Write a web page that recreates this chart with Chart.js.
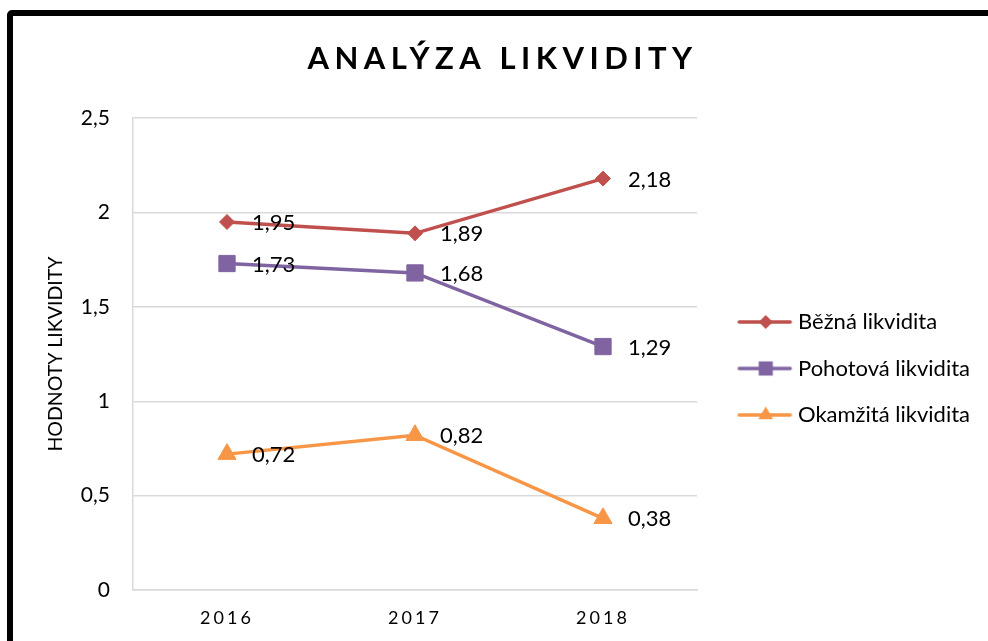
<!DOCTYPE html>
<html>
<head>
<meta charset="utf-8">
<script src="https://cdn.jsdelivr.net/npm/chart.js@4.4.1/dist/chart.umd.min.js"></script>
<style>
  html, body { margin: 0; padding: 0; background: #fff; overflow: hidden; }
  .frame {
    position: absolute; left: 7px; top: 10px;
    width: 979px; height: 705px;
    border: 6px solid #000; border-radius: 5px;
  }
  canvas { display: block; }
</style>
</head>
<body>
<div class="frame"><canvas id="chart" width="979" height="705"></canvas></div>
<script>
const years = ['2016', '2017', '2018'];
const bezna = [1.95, 1.89, 2.18];
const pohotova = [1.73, 1.68, 1.29];
const okamzita = [0.72, 0.82, 0.38];
const yTicks = [0, 0.5, 1, 1.5, 2, 2.5];

const RED = '#C0504D';
const PURPLE = '#8064A2';
const ORANGE = '#F79646';
const GRID = '#d9d9d9';
const FONT = 'Lato';

// plot area edges inside the canvas
const SIDE_PAD = 27;
const PLOT_LEFT = 120;
const PLOT_RIGHT = 684;
const PLOT_BOTTOM = 574;

const fmt = v => v.toFixed(2).replace(/0$/, '').replace(/\.$/, '').replace('.', ',');

// small line + marker picture for the legend, like excel draws it
function legendSample(color, style, radius) {
    const c = document.createElement('canvas');
    c.width = 78;
    c.height = 20;
    const g = c.getContext('2d');
    g.strokeStyle = color;
    g.lineWidth = 3.5;
    g.lineCap = 'round';
    g.beginPath();
    g.moveTo(24, 10);
    g.lineTo(75, 10);
    g.stroke();
    g.fillStyle = color;
    Chart.helpers.drawPoint(g, { pointStyle: style, radius: radius, rotation: 0, borderWidth: 0 }, 50.5, 10);
    return c;
}

const samples = [
    legendSample(RED, 'rectRot', 7),
    legendSample(PURPLE, 'rect', 10),
    legendSample(ORANGE, 'triangle', 8.5),
];

// legend is wider than its text in the original, keep plot right edge fixed
const legendWidth = {
    id: 'legendWidth',
    beforeLayout(chart) {
        const lg = chart.legend;
        if (!lg || lg.fitWrapped) return;
        const fit = lg.fit;
        lg.fit = function () {
            fit.call(this);
            this.width = chart.width - SIDE_PAD - PLOT_RIGHT;
        };
        lg.fitWrapped = true;
    },
    afterLayout(chart) {
        // let the long labels run to the canvas edge instead of being clipped
        const lg = chart.legend;
        lg.right = chart.width;
        lg.width = lg.right - lg.left;
    }
};

// letter spacing for the title and the year labels
const spacing = {
    id: 'spacing',
    beforeDraw(chart) {
        const t = chart.titleBlock;
        if (t && !t.spaced) {
            const draw = t.draw;
            t.draw = function (...args) {
                this.ctx.save();
                this.ctx.letterSpacing = '5.5px';
                draw.apply(this, args);
                this.ctx.restore();
            };
            t.spaced = true;
        }
        const x = chart.scales.x;
        if (x && !x.spaced) {
            const drawLabels = x.drawLabels;
            x.drawLabels = function (...args) {
                this.ctx.save();
                this.ctx.letterSpacing = '3px';
                drawLabels.apply(this, args);
                this.ctx.restore();
            };
            x.spaced = true;
        }
    }
};

const valueLabels = {
    id: 'valueLabels',
    afterDatasetsDraw(chart) {
        const ctx = chart.ctx;
        ctx.save();
        ctx.font = '22px ' + FONT;
        ctx.fillStyle = '#000';
        ctx.textAlign = 'left';
        ctx.textBaseline = 'middle';
        chart.data.datasets.forEach((ds, i) => {
            chart.getDatasetMeta(i).data.forEach((pt, j) => {
                ctx.fillText(fmt(ds.data[j]), pt.x + 25, pt.y + 1);
            });
        });
        ctx.restore();
    }
};

function series(label, data, color, style, radius) {
    return {
        label: label,
        data: data,
        borderColor: color,
        backgroundColor: color,
        borderWidth: 3.5,
        pointStyle: style,
        pointRadius: radius,
        pointHoverRadius: radius,
        pointBorderWidth: 1,
        pointBackgroundColor: color,
        pointBorderColor: color,
        tension: 0,
    };
}

const ctx = document.getElementById('chart').getContext('2d');

new Chart(ctx, {
    type: 'line',
    data: {
        labels: years,
        datasets: [
            series('Běžná likvidita', bezna, RED, 'rectRot', 7.5),
            series('Pohotová likvidita', pohotova, PURPLE, 'rect', 11.5),
            series('Okamžitá likvidita', okamzita, ORANGE, 'triangle', 10.5),
        ],
    },
    options: {
        responsive: false,
        animation: false,
        events: [],
        layout: { padding: { left: SIDE_PAD, right: SIDE_PAD, top: 0, bottom: 0 } },
        plugins: {
            title: {
                display: true,
                text: 'ANALÝZA LIKVIDITY',
                color: '#000',
                font: { family: FONT, size: 31, weight: 'bold' },
                padding: { top: 24, bottom: 41 },
            },
            legend: {
                position: 'right',
                fullSize: true,
                labels: {
                    usePointStyle: true,
                    pointStyleWidth: 65.5,
                    padding: 24.5,
                    color: '#000',
                    font: { family: FONT, size: 22 },
                    generateLabels(chart) {
                        const items = Chart.defaults.plugins.legend.labels.generateLabels(chart);
                        items.forEach((it, i) => { it.pointStyle = samples[i]; });
                        return items;
                    },
                },
            },
            tooltip: { enabled: false },
        },
        scales: {
            x: {
                offset: true,
                grid: { display: false, drawTicks: false, offset: true },
                border: { color: GRID, width: 1.5 },
                ticks: { color: '#000', font: { family: FONT, size: 18 }, padding: 17 },
                afterFit(s) { s.height = s.chart.height - PLOT_BOTTOM; },
            },
            y: {
                min: 0,
                max: 2.5,
                afterBuildTicks(s) { s.ticks = yTicks.map(v => ({ value: v })); },
                grid: { color: GRID, lineWidth: 1.5, drawTicks: false },
                border: { color: GRID, width: 1.5 },
                ticks: {
                    color: '#000',
                    font: { family: FONT, size: 21 },
                    padding: 23,
                    callback: v => String(v).replace('.', ','),
                },
                title: {
                    display: true,
                    text: 'HODNOTY LIKVIDITY',
                    color: '#000',
                    font: { family: FONT, size: 19.5 },
                    padding: 4,
                },
                afterFit(s) { s.width = PLOT_LEFT - SIDE_PAD; },
            },
        },
    },
    plugins: [legendWidth, spacing, valueLabels],
});
</script>
</body>
</html>
